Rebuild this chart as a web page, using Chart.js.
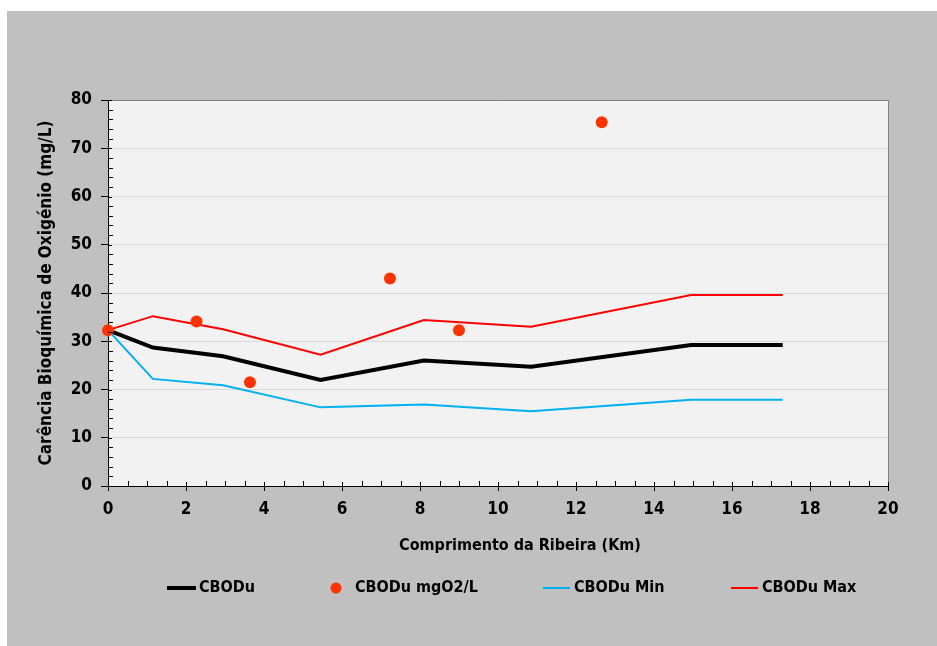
<!DOCTYPE html>
<html>
<head>
<meta charset="utf-8">
<script src="https://cdn.jsdelivr.net/npm/chart.js"></script>
<style>
    body { margin: 0; background: #ffffff; }
    .frame {
        position: absolute;
        left: 7px; top: 11px;
        width: 930px; height: 635px;
        background: #c0c0c0;
    }
</style>
</head>
<body>
<div class="frame"><canvas id="cbodChart" width="930" height="635"></canvas></div>
<script>
/* ============================================
   DADOS
   ============================================ */
const kmModelo = [0, 1.15, 2.95, 5.45, 8.1, 10.85, 14.95, 17.3];
const cbodu    = [32.3, 28.7, 26.9, 22.0, 26.0, 24.7, 29.2, 29.2];
const cboduMin = [32.3, 22.2, 20.9, 16.3, 16.9, 15.5, 17.9, 17.9];
const cboduMax = [32.3, 35.2, 32.5, 27.2, 34.4, 33.0, 39.6, 39.6];

const kmObs    = [0, 2.27, 3.64, 7.23, 9.0, 12.66];
const cboduObs = [32.3, 34.1, 21.5, 43.0, 32.3, 75.4];

const xTicks = [0, 2, 4, 6, 8, 10, 12, 14, 16, 18, 20];
const yTicks = [0, 10, 20, 30, 40, 50, 60, 70, 80];

const seriesNames = ['CBODu', 'CBODu mgO2/L', 'CBODu Min', 'CBODu Max'];
const xTitle = 'Comprimento da Ribeira (Km)';

const FONT = "'Liberation Sans Narrow', 'Arial Narrow', 'DejaVu Sans Condensed', sans-serif";

const toPoints = (xs, ys) => xs.map((x, i) => ({ x: x, y: ys[i] }));

/* ============================================
   PLUGINS
   ============================================ */

// Fundo da área do gráfico
const plotBackground = {
    id: 'plotBackground',
    beforeDraw(chart) {
        const { ctx, chartArea: a } = chart;
        ctx.save();
        ctx.fillStyle = '#f2f2f2';
        ctx.fillRect(a.left, a.top, a.right - a.left, a.bottom - a.top);
        ctx.restore();
    }
};

// Marcas internas (menores e maiores) nos eixos
const innerTicks = {
    id: 'innerTicks',
    afterDatasetsDraw(chart) {
        const { ctx, chartArea: a, scales } = chart;
        ctx.save();
        ctx.strokeStyle = '#000';
        ctx.lineWidth = 1;
        ctx.beginPath();
        for (let v = 0; v <= 20; v += 0.5) {
            const px = Math.round(scales.x.getPixelForValue(v)) + 0.5;
            const len = (v % 2 === 0) ? 4 : 5;
            ctx.moveTo(px, a.bottom);
            ctx.lineTo(px, a.bottom - len);
        }
        for (let v = 0; v <= 80; v += 2) {
            const py = Math.round(scales.y.getPixelForValue(v)) + 0.5;
            const len = (v % 10 === 0) ? 4 : 5;
            ctx.moveTo(a.left, py);
            ctx.lineTo(a.left + len, py);
        }
        ctx.stroke();
        ctx.restore();
    }
};

// Título do eixo X (ligeiramente descentrado, como no original) + legenda
const customLegend = {
    id: 'customLegend',
    afterDraw(chart) {
        const ctx = chart.ctx;
        ctx.save();
        ctx.font = 'bold 16px ' + FONT;
        ctx.textBaseline = 'middle';
        ctx.textAlign = 'center';
        ctx.fillStyle = '#000';
        ctx.fillText(xTitle, 513, 535);

        const y = 577;
        const items = [
            { type: 'line', x0: 160, x1: 189, color: '#000000', width: 4, tx: 192 },
            { type: 'dot',  cx: 329, color: '#ff3300', tx: 348 },
            { type: 'line', x0: 536, x1: 563, color: '#00b0f0', width: 2, tx: 567 },
            { type: 'line', x0: 724, x1: 751, color: '#ff0000', width: 2, tx: 755 }
        ];
        ctx.textAlign = 'left';
        items.forEach((it, i) => {
            if (it.type === 'line') {
                ctx.strokeStyle = it.color;
                ctx.lineWidth = it.width;
                ctx.beginPath();
                ctx.moveTo(it.x0, y);
                ctx.lineTo(it.x1, y);
                ctx.stroke();
            } else {
                ctx.fillStyle = it.color;
                ctx.beginPath();
                ctx.arc(it.cx, y, 5.5, 0, Math.PI * 2);
                ctx.fill();
            }
            ctx.fillStyle = '#000';
            ctx.fillText(seriesNames[i], it.tx, y);
        });
        ctx.restore();
    }
};

/* ============================================
   GRÁFICO
   ============================================ */
const ctx = document.getElementById('cbodChart');

new Chart(ctx, {
    type: 'line',
    data: {
        datasets: [
            {
                label: seriesNames[0],
                data: toPoints(kmModelo, cbodu),
                borderColor: '#000000',
                borderWidth: 4,
                pointRadius: 0,
                tension: 0,
                clip: false,
                order: 3
            },
            {
                label: seriesNames[1],
                data: toPoints(kmObs, cboduObs),
                showLine: false,
                pointRadius: 6,
                pointBackgroundColor: '#ff3300',
                pointBorderWidth: 0,
                clip: false,
                order: 0
            },
            {
                label: seriesNames[2],
                data: toPoints(kmModelo, cboduMin),
                borderColor: '#00b0f0',
                borderWidth: 2,
                pointRadius: 0,
                tension: 0,
                clip: false,
                order: 2
            },
            {
                label: seriesNames[3],
                data: toPoints(kmModelo, cboduMax),
                borderColor: '#ff0000',
                borderWidth: 2,
                pointRadius: 0,
                tension: 0,
                clip: false,
                order: 1
            }
        ]
    },
    options: {
        responsive: false,
        animation: false,
        layout: { padding: { left: 25, top: 89, right: 49, bottom: 80 } },
        plugins: {
            legend: { display: false },
            tooltip: { enabled: false }
        },
        scales: {
            x: {
                type: 'linear',
                min: 0,
                max: 20,
                afterBuildTicks: (scale) => { scale.ticks = xTicks.map(v => ({ value: v })); },
                afterFit: (scale) => { scale.height = 80; },
                border: { color: '#000', width: 1 },
                grid: {
                    drawOnChartArea: true,
                    color: (c) => (c.tick && c.tick.value === 20) ? '#808080' : 'rgba(0,0,0,0)',
                    tickColor: '#000',
                    tickLength: 5
                },
                ticks: {
                    color: '#000',
                    padding: 8,
                    maxRotation: 0,
                    font: { family: FONT, size: 17, weight: 'bold' }
                },
                title: { display: false }
            },
            y: {
                min: 0,
                max: 80,
                afterBuildTicks: (scale) => { scale.ticks = yTicks.map(v => ({ value: v })); },
                afterFit: (scale) => { scale.width = 76; },
                border: { color: '#000', width: 1 },
                grid: {
                    color: (c) => (c.tick && c.tick.value === 80) ? '#808080' : '#d9d9d9',
                    tickColor: '#000',
                    tickLength: 7
                },
                ticks: {
                    color: '#000',
                    padding: 9,
                    font: { family: FONT, size: 17, weight: 'bold' }
                },
                title: {
                    display: true,
                    text: 'Carência Bioquímica de Oxigénio (mg/L)',
                    color: '#000',
                    padding: { bottom: 0 },
                    font: { family: FONT, size: 17, weight: 'bold' }
                }
            }
        }
    },
    plugins: [plotBackground, innerTicks, customLegend]
});
</script>
</body>
</html>
